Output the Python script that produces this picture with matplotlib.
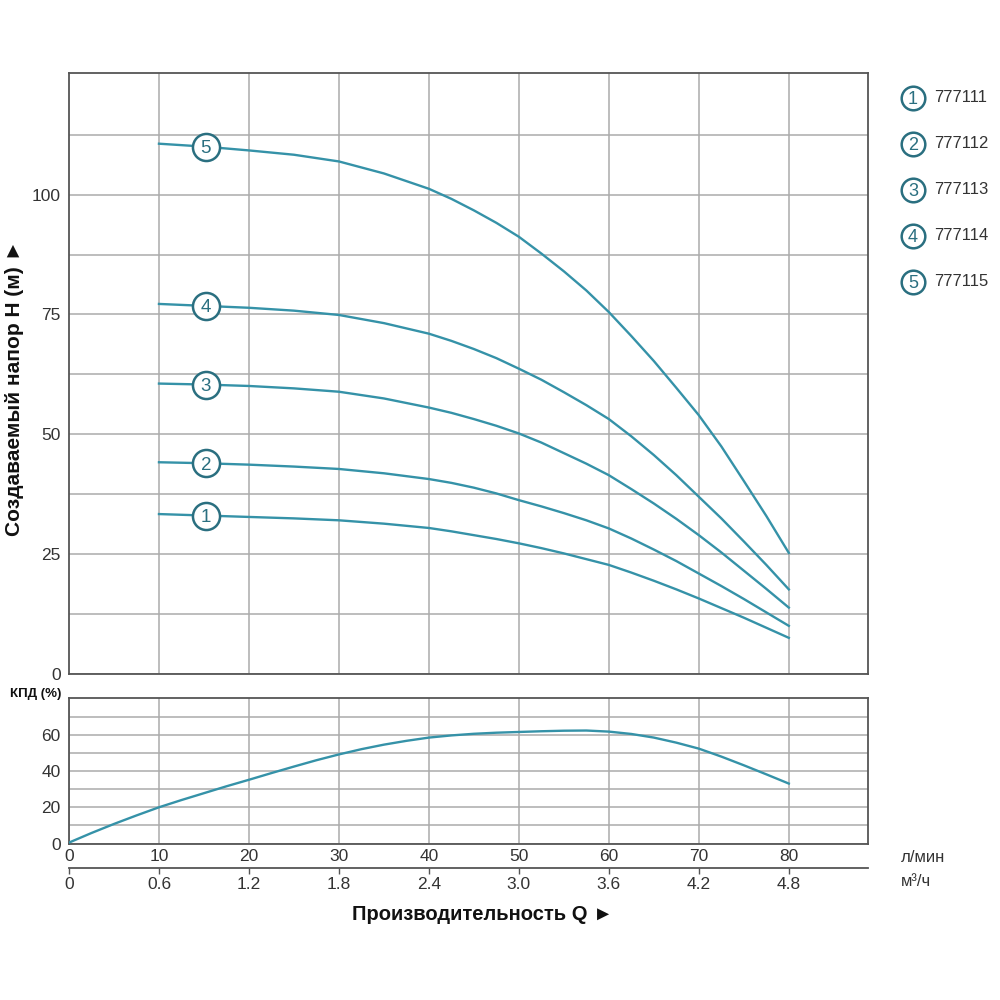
import numpy as np
import matplotlib
matplotlib.use("Agg")
import matplotlib.pyplot as plt
from matplotlib.lines import Line2D

plt.rcParams['font.family'] = ['Liberation Sans', 'DejaVu Sans']

# Расход, л/мин
q = [10, 15, 20, 25, 30, 35, 40, 42.5, 45, 47.5, 50, 52.5, 55, 57.5,
     60, 62.5, 65, 67.5, 70, 72.5, 75, 77.5, 80]

# Напор для каждой модели, м
h1 = [33.4, 33.1, 32.8, 32.5, 32.1, 31.4, 30.5, 29.8, 29.0, 28.2, 27.3, 26.3, 25.2, 24.0,
      22.8, 21.2, 19.5, 17.7, 15.8, 13.8, 11.8, 9.7, 7.6]
h2 = [44.2, 44.0, 43.7, 43.3, 42.8, 41.9, 40.7, 39.9, 38.9, 37.7, 36.3, 35.0, 33.6, 32.1,
      30.4, 28.3, 26.0, 23.6, 21.0, 18.4, 15.7, 12.9, 10.1]
h3 = [60.6, 60.4, 60.1, 59.6, 58.9, 57.5, 55.6, 54.5, 53.2, 51.8, 50.2, 48.3, 46.1, 43.9,
      41.5, 38.6, 35.6, 32.4, 29.0, 25.4, 21.6, 17.8, 13.9]
h4 = [77.2, 76.8, 76.4, 75.8, 74.9, 73.2, 71.0, 69.5, 67.8, 65.9, 63.7, 61.4, 58.8, 56.1,
      53.2, 49.6, 45.7, 41.5, 37.0, 32.5, 27.7, 22.8, 17.7]
h5 = [110.6, 110.0, 109.2, 108.3, 106.9, 104.4, 101.2, 99.1, 96.7, 94.1, 91.2, 87.7, 84.0, 80.0,
      75.5, 70.5, 65.3, 59.7, 54.0, 47.5, 40.3, 33.0, 25.3]
curves = [h1, h2, h3, h4, h5]
models = ['777111', '777112', '777113', '777114', '777115']

# КПД, %
q_eff = [0, 2.5, 5, 7.5, 10, 12.5, 15, 17.5, 20, 22.5, 25, 27.5, 30, 32.5, 35, 37.5, 40,
         42.5, 45, 47.5, 50, 52.5, 55, 57.5, 60, 62.5, 65, 67.5, 70, 72.5, 75, 77.5, 80]
eff = [0.5, 5.8, 10.8, 15.5, 20.0, 24.0, 27.8, 31.6, 35.2, 38.9, 42.5, 46.0, 49.2, 52.1, 54.6,
       56.7, 58.5, 59.7, 60.6, 61.2, 61.6, 62.0, 62.3, 62.4, 61.8, 60.5, 58.5, 55.7, 52.4,
       48.0, 43.2, 38.2, 33.1]

q_ticks = [0, 10, 20, 30, 40, 50, 60, 70, 80]
m3_ticks = [0, 0.6, 1.2, 1.8, 2.4, 3.0, 3.6, 4.2, 4.8]
q_mark = 15.2

teal = '#3592a8'
dark_teal = '#2a6f80'
grid_c = '#ababab'
spine_c = '#555555'
txt_c = '#333333'

fig = plt.figure(figsize=(10, 10), dpi=100)
ax1 = fig.add_axes([0.069, 1 - 0.6743, 0.799, 0.6016])
ax2 = fig.add_axes([0.069, 1 - 0.8435, 0.799, 0.1452])

# --- верхний график: напор ---
for h in curves:
    ax1.plot(q, h, color=teal, lw=1.7, zorder=3)
for i, h in enumerate(curves):
    hm = np.interp(q_mark, q, h)
    ax1.plot([q_mark], [hm], 'o', ms=19.5, mfc='white', mec=dark_teal, mew=1.8, zorder=4)
    ax1.text(q_mark, hm, str(i + 1), ha='center', va='center_baseline', fontsize=13.5,
             color=dark_teal, zorder=5)

ax1.set_xlim(0, 88.8)
ax1.set_ylim(0, 125.4)
ax1.set_xticks(q_ticks[1:])
ax1.set_xticklabels([])
yt = np.arange(0, 112.6, 12.5)
ax1.set_yticks(yt)
ax1.set_yticklabels([str(int(v)) if v % 25 == 0 else '' for v in yt])
ax1.grid(True, color=grid_c, lw=1.1)
ax1.set_axisbelow(True)
ax1.tick_params(length=0, labelsize=12.5, labelcolor=txt_c, pad=6)

# --- нижний график: КПД ---
ax2.plot(q_eff, eff, color=teal, lw=1.7, zorder=3)
ax2.set_xlim(0, 88.8)
ax2.set_ylim(0, 80.2)
ax2.set_xticks(q_ticks)
ax2.set_xticklabels([str(v) for v in q_ticks])
et = np.arange(0, 71, 10)
ax2.set_yticks(et)
ax2.set_yticklabels([str(v) if v % 20 == 0 else '' for v in et])
ax2.grid(True, color=grid_c, lw=1.1)
ax2.set_axisbelow(True)
ax2.tick_params(length=0, labelsize=12.5, labelcolor=txt_c, pad=4)
ax2.tick_params(axis='y', pad=6)

sec = ax2.secondary_xaxis(-0.167, functions=(lambda x: x * 0.06, lambda m: m / 0.06))
sec.set_xticks(m3_ticks)
sec.set_xticklabels(['0'] + ['%.1f' % v for v in m3_ticks[1:]])
sec.tick_params(length=4, width=1, color=spine_c, labelsize=12.5, labelcolor=txt_c, pad=3)
sec.spines['bottom'].set_color(spine_c)
sec.spines['bottom'].set_linewidth(1.3)

for ax in (ax1, ax2):
    for s in ax.spines.values():
        s.set_color(spine_c)
        s.set_linewidth(1.3)

# --- подписи ---
fig.text(0.015, 1 - 0.388, 'Создаваемый напор H (м) ►', rotation=90, ha='center', va='center',
         fontsize=15, fontweight='bold', color='#111111')
fig.text(0.482, 1 - 0.915, 'Производительность Q ►', ha='center', va='center',
         fontsize=14.5, fontweight='bold', color='#111111')
fig.text(0.010, 1 - 0.694, 'КПД (%)', ha='left', va='center', fontsize=9.5,
         fontweight='bold', color='#111111')
fig.text(0.901, 1 - 0.857, 'л/мин', ha='left', va='center', fontsize=12, color=txt_c)
fig.text(0.901, 1 - 0.882, 'м³/ч', ha='left', va='center', fontsize=12, color=txt_c)

# --- легенда ---
for i, name in enumerate(models):
    y = 1 - (0.098 + 0.046 * i)
    fig.add_artist(Line2D([0.913], [y], marker='o', ms=17, mfc='white', mec=dark_teal,
                          mew=1.8, transform=fig.transFigure))
    fig.text(0.913, y, str(i + 1), ha='center', va='center_baseline', fontsize=13,
             color=dark_teal)
    fig.text(0.934, y, name, ha='left', va='center', fontsize=12, color=txt_c)

fig.savefig('out.png', dpi=100)
